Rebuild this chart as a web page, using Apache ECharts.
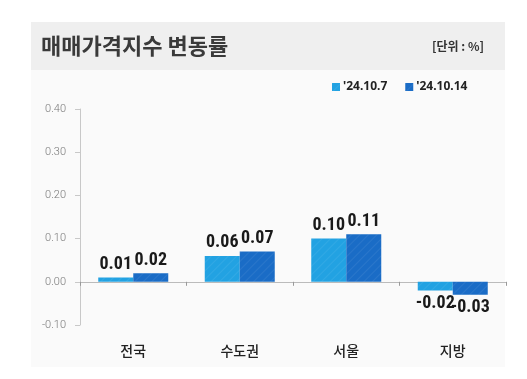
<!DOCTYPE html>
<html><head><meta charset="utf-8">
<script src="https://cdn.jsdelivr.net/npm/echarts@6/dist/echarts.min.js"></script>
<style>html,body{margin:0;padding:0;background:#fff}#c{width:527px;height:379px}</style>
</head><body><div id="c"></div>
<script>
const categories = ['전국', '수도권', '서울', '지방'];
const seriesNames = ["'24.10.7", "'24.10.14"];
const valuesPrev = [0.01, 0.06, 0.10, -0.02];
const valuesCurr = [0.02, 0.07, 0.11, -0.03];
const yTicks = { min: -0.10, max: 0.40, interval: 0.10 };
const titleText = '매매가격지수 변동률';
const unitText = '[단위 : %]';

const colors = ['#22a2e2', '#1a6cc6'];
const labelFont = '"Roboto Condensed", "Liberation Sans Narrow", Roboto, sans-serif';

function makeData(vals){
  return vals.map(v => ({
    value: v,
    label: { position: v < 0 ? 'bottom' : 'top' }
  }));
}
function decal(){
  return { symbol:'rect', dashArrayX:[1,0], dashArrayY:[1,5], rotation:-Math.PI/4, color:'rgba(255,255,255,0.07)' };
}

const chart = echarts.init(document.getElementById('c'), null, {renderer:'canvas'});
chart.setOption({
  backgroundColor: '#ffffff',
  animation: false,
  graphic: [
    { type:'rect', z:-10, shape:{x:31,y:22,width:474,height:345}, style:{fill:'#fafafa'} },
    { type:'rect', z:-9, shape:{x:31,y:22,width:474,height:48}, style:{fill:'#efefef'} },
    { type:'text', left:432, top:40, style:{ text: unitText, font:'bold 12px "Noto Sans CJK KR"', fill:'#333' } }
  ],
  title: {
    text: titleText, left: 36, top: 30,
    textStyle: { fontFamily:'Noto Sans CJK KR', fontWeight:'bold', fontSize:22, color:'#3a3a3a' }
  },
  legend: {
    left: 327, top: 76, itemWidth: 8, itemHeight: 8, itemGap: 18, icon: 'rect',
    textStyle: { fontFamily:'Noto Sans', fontWeight:'bold', fontSize:12, color:'#222', padding:[0,0,0,-2] },
    data: seriesNames
  },
  grid: { left: 80, right: 21, top: 109, bottom: 54, containLabel: false, outerBoundsMode: 'none' },
  xAxis: [{
    type: 'category', data: categories,
    axisLine: { onZero: true, lineStyle: { color:'#bbbbbb', width:1 } },
    axisTick: { show: true, length: 4, lineStyle: { color:'#999' } },
    axisLabel: { show: false }
  }, {
    type: 'category', data: categories, position: 'bottom',
    axisLine: { show: false, onZero: false }, axisTick: { show: false },
    axisLabel: { margin: 19, fontFamily:'Noto Sans CJK KR', fontSize: 14, color:'#222', fontWeight: 500 }
  }],
  yAxis: {
    type: 'value', min: yTicks.min, max: yTicks.max, interval: yTicks.interval,
    axisLine: { show: true, lineStyle: { color:'#c8c8c8' } },
    axisTick: { show: true, length: 5, lineStyle: { color:'#c8c8c8' } },
    splitLine: { show: false },
    axisLabel: { margin: 14, fontFamily:'Roboto', fontWeight: 300, fontSize: 11, color:'#777',
      formatter: v => v.toFixed(2) }
  },
  series: [
    { name: seriesNames[0], type:'bar', data: makeData(valuesPrev), barWidth: 35, barGap: '0%',
      itemStyle: { color: colors[0], decal: decal() },
      label: { show:true, distance:4, fontFamily: labelFont, fontWeight:'bold', fontSize:18, color:'#1a1a1a',
        formatter: p => p.value.toFixed(2) } },
    { name: seriesNames[1], type:'bar', data: makeData(valuesCurr), barWidth: 35, barGap: '0%',
      itemStyle: { color: colors[1], decal: decal() },
      label: { show:true, distance:4, fontFamily: labelFont, fontWeight:'bold', fontSize:18, color:'#1a1a1a',
        formatter: p => p.value.toFixed(2) } }
  ],
  aria: { enabled: false, decal: { show: true } }
});
</script>
</body></html>
